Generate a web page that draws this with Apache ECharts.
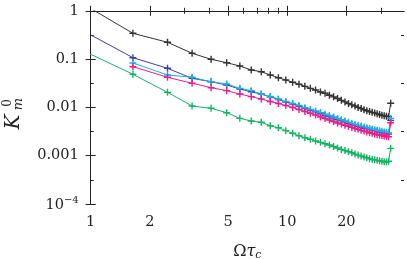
<!DOCTYPE html>
<html><head><meta charset="utf-8">
<script src="https://cdn.jsdelivr.net/npm/echarts@6/dist/echarts.min.js"></script>
<style>html,body{margin:0;padding:0;background:#fff}#c{width:407px;height:259px}</style>
</head><body><div id="c"></div>
<script>
// ---- data ----
const xValues = [0.82,1.64,2.46,3.28,4.10,4.92,5.74,6.56,7.38,8.20,9.02,9.84,10.66,11.48,12.30,13.12,13.94,14.76,15.58,16.40,17.22,18.04,18.86,19.68,20.50,21.32,22.14,22.96,23.78,24.60,25.42,26.24,27.06,27.88,28.70,29.52,30.34,31.16,31.98,32.80,33.62];
const blackSeries = [1.8,0.342,0.223,0.132,0.099,0.0842,0.072,0.0595,0.0548,0.0469,0.0412,0.0369,0.0331,0.0301,0.0273,0.0248,0.0229,0.0208,0.0196,0.0179,0.01655,0.01528,0.0140,0.0130,0.01205,0.0113,0.0107,0.0100,0.00948,0.00897,0.00855,0.00822,0.0079,0.00766,0.00736,0.00713,0.0069,0.00674,0.00653,0.00643,0.0122];
const blueSeries = [0.49,0.107,0.0645,0.040,0.034,0.0291,0.024,0.0211,0.0188,0.0166,0.0146,0.0129,0.0117,0.0106,0.0095,0.0087,0.0081,0.0075,0.0069,0.0065,0.006,0.0056,0.0053,0.005,0.0047,0.0044,0.0042,0.004,0.0039,0.0037,0.0036,0.0035,0.0034,0.0033,0.0032,0.0031,0.003,0.0029,0.0029,0.0028,0.0054];
const cyanSeries = [null,0.083,0.0469,0.042,0.034,0.0305,0.0248,0.0222,0.01897,0.01682,0.01493,0.01324,0.01205,0.01094,0.00982,0.00905,0.00842,0.0078,0.00723,0.00679,0.00632,0.00592,0.00556,0.00523,0.00493,0.00466,0.00443,0.00426,0.0041,0.00395,0.0038,0.00367,0.00357,0.00345,0.00336,0.00328,0.00319,0.00311,0.00304,0.00298,0.00594];
const magentaSeries = [null,0.0696,0.042,0.0316,0.0256,0.0222,0.0189,0.0167,0.01493,0.01324,0.01205,0.01094,0.00995,0.00905,0.00822,0.00755,0.00696,0.00635,0.00589,0.00548,0.0051,0.00477,0.00451,0.00428,0.00406,0.00385,0.00367,0.00352,0.00337,0.00323,0.00311,0.00299,0.0029,0.00281,0.00273,0.00266,0.00261,0.00256,0.0025,0.00246,0.00482];
const greenSeries = [0.184,0.0485,0.0205,0.0107,0.00957,0.00777,0.00594,0.00523,0.00491,0.00418,0.0038,0.0033,0.00291,0.00259,0.00236,0.00219,0.00201,0.00189,0.00177,0.00166,0.00155,0.00144,0.00135,0.00128,0.00121,0.00115,0.00108,0.00103,0.000986,0.00094,0.000904,0.000868,0.000841,0.000822,0.000802,0.000783,0.000765,0.000752,0.000741,0.000766,0.00142];

const xTickValues = [1,2,5,10,20];
const xTickLabels = ['1','2','5','10','20'];
const xMinorTicks = [3,4,6,7,8,9,30];
const yTickValues = [1,0.1,0.01,0.001,0.0001];
const yTickLabels = ['1','0.1','0.01','0.001','{b|10}{sup|\u22124}'];
const yMinorTicks = [0.316,0.0316,0.00316,0.000316];
const xRange = [1, 39.3];
const yRange = [0.0001, 1];

// ---- chart ----
const FONT = 'DejaVu Serif';
const INK = '#222';
const L = Math.log10;
const xLogMin = L(xRange[0]), xLogMax = L(xRange[1]);
const yLogMin = L(yRange[0]), yLogMax = L(yRange[1]);
function labelFor(vals, labels) {
  return function (v) {
    for (let i = 0; i < vals.length; i++) if (Math.abs(L(vals[i]) - v) < 1e-6) return labels[i];
    return '';
  };
}
const lineStyleAxis = {color: INK, width: 1};
function xDeco(pos, ticks, len, withLine, withLabel) {
  return {
    type: 'value', gridIndex: 0, position: pos, min: xLogMin, max: xLogMax,
    axisLine: {show: withLine, lineStyle: lineStyleAxis},
    axisTick: {show: true, inside: true, length: len, customValues: ticks.map(L), lineStyle: lineStyleAxis},
    axisLabel: withLabel ? {show: true, customValues: xTickValues.map(L), formatter: labelFor(xTickValues, xTickLabels),
      fontFamily: FONT, fontSize: 14.5, color: INK, margin: 11} : {show: false},
    splitLine: {show: false}
  };
}
function yDeco(pos, ticks, len, withLine, withLabel) {
  return {
    type: 'value', gridIndex: 0, position: pos, min: yLogMin, max: yLogMax,
    axisLine: {show: withLine, lineStyle: lineStyleAxis},
    axisTick: {show: true, inside: true, length: len, customValues: ticks.map(L), lineStyle: lineStyleAxis},
    axisLabel: withLabel ? {show: true, customValues: yTickValues.map(L), formatter: labelFor(yTickValues, yTickLabels),
      fontFamily: FONT, fontSize: 14.5, color: INK, margin: 12,
      rich: {b: {fontFamily: FONT, fontSize: 14.5, color: INK, lineHeight: 18, verticalAlign: 'bottom'},
             sup: {fontFamily: FONT, fontSize: 10, color: INK, lineHeight: 10, verticalAlign: 'top'}}} : {show: false},
    splitLine: {show: false}
  };
}
const xName = {
  name: '{a|\u03A9}{t|\u03C4}{s|c}', nameLocation: 'middle', nameGap: 38,
  nameTextStyle: {rich: {
    a: {fontFamily: FONT, fontSize: 16, color: INK},
    t: {fontFamily: FONT, fontStyle: 'italic', fontSize: 16, color: INK},
    s: {fontFamily: FONT, fontStyle: 'italic', fontSize: 11, color: INK, padding: [8, 0, 0, 0]}
  }}
};
const plus = 'path://M-1,-0.2H-0.2V-1H0.2V-0.2H1V0.2H0.2V1H-0.2V0.2H-1Z';
function mk(name, color, vals) {
  return {
    type: 'line', name: name, xAxisIndex: 0, yAxisIndex: 0,
    data: xValues.map((x, i) => [x, vals[i]]),
    connectNulls: false, clip: true,
    symbol: plus, symbolSize: 7, showSymbol: true,
    lineStyle: {color: color, width: 1}, itemStyle: {color: color},
    emphasis: {disabled: true}
  };
}
const chart = echarts.init(document.getElementById('c'), null, {renderer: 'canvas'});
chart.setOption({
  animation: false,
  grid: {left: 90.7, top: 10.8, width: 313.3, height: 193.2, containLabel: false, outerBoundsMode: 'none'},
  xAxis: [
    {type: 'log', gridIndex: 0, min: xRange[0], max: xRange[1], show: false, splitLine: {show: false}},
    Object.assign(xDeco('bottom', xTickValues, 5, true, true), xName),
    xDeco('bottom', xMinorTicks, 3, false, false),
    xDeco('top', xTickValues, 5, true, false),
    xDeco('top', xMinorTicks, 3, false, false)
  ],
  yAxis: [
    {type: 'log', gridIndex: 0, min: yRange[0], max: yRange[1], show: false, splitLine: {show: false}},
    yDeco('left', yTickValues, 5, true, true),
    yDeco('left', yMinorTicks, 3, false, false),
    yDeco('right', yTickValues, 5, true, false),
    yDeco('right', yMinorTicks, 3, false, false)
  ],
  graphic: [{
    type: 'group', x: 14, y: 122, rotation: Math.PI / 2,
    children: [
      {type: 'text', x: 0, y: 0, style: {text: 'K', font: 'italic 20px "DejaVu Serif"', fill: INK, align: 'center', verticalAlign: 'middle'}},
      {type: 'text', x: 18, y: 4.5, style: {text: 'm', font: 'italic 13px "DejaVu Serif"', fill: INK, align: 'center', verticalAlign: 'middle'}},
      {type: 'text', x: 19, y: -6.5, style: {text: '0', font: '12px "DejaVu Serif"', fill: INK, align: 'center', verticalAlign: 'middle'}}
    ]
  }],
  series: [
    mk('black', '#333333', blackSeries),
    mk('blue', '#3f3fa8', blueSeries),
    mk('cyan', '#1ab0ea', cyanSeries),
    mk('magenta', '#ec1c8c', magentaSeries),
    mk('green', '#14b464', greenSeries)
  ]
});
</script></body></html>
